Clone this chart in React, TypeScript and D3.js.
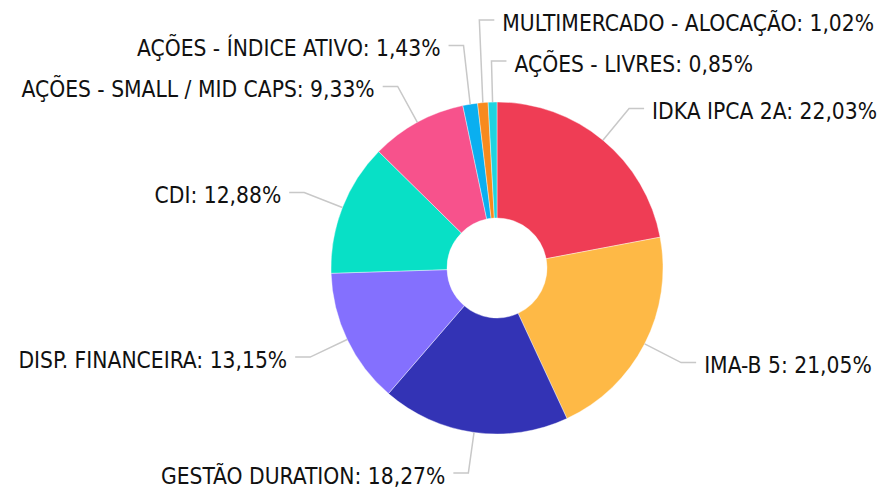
import React from "react";
import * as d3 from "d3";

const categories = [
  "IDKA IPCA 2A",
  "IMA-B 5",
  "GESTÃO DURATION",
  "DISP. FINANCEIRA",
  "CDI",
  "AÇÕES - SMALL / MID CAPS",
  "AÇÕES - ÍNDICE ATIVO",
  "MULTIMERCADO - ALOCAÇÃO",
  "AÇÕES - LIVRES",
];
const values = [22.03, 21.05, 18.27, 13.15, 12.88, 9.33, 1.43, 1.02, 0.85];
const labels = ["22,03%", "21,05%", "18,27%", "13,15%", "12,88%", "9,33%", "1,43%", "1,02%", "0,85%"];
const colors = ["#ef3d55", "#feb946", "#3333b5", "#8470fe", "#08e0c6", "#f7528c", "#0aaff0", "#f88a1e", "#1fd3e0"];

const W = 883;
const H = 488;
const cx = 497;
const cy = 268;
const R = 166;
const r0 = 50;
const len1 = 41;
const len2 = 15;
const gapText = 8;
const minGap = 41;

export default function App() {
  const data = categories.map((c, i) => ({ name: c, value: values[i], label: labels[i], color: colors[i] }));
  const pie = d3.pie<any>().sort(null).value((d) => d.value);
  const arcs = pie(data);
  const arcGen = d3.arc<any>().innerRadius(r0).outerRadius(R);

  const items = arcs.map((a, i) => {
    const mid = (a.startAngle + a.endAngle) / 2;
    const px = cx + R * Math.sin(mid);
    const py = cy - R * Math.cos(mid);
    const ex = cx + (R + len1) * Math.sin(mid);
    const ey = cy - (R + len1) * Math.cos(mid);
    const right = ex - cx > -25;
    const order = right ? (mid > Math.PI ? mid - 2 * Math.PI : mid) : -mid;
    return { i, mid, px, py, ex, ey, right, order, y: ey };
  });

  [true, false].forEach((side) => {
    const group = items.filter((d) => d.right === side).sort((a, b) => a.order - b.order);
    for (let k = group.length - 2; k >= 0; k--) {
      group[k].y = Math.min(group[k].y, group[k + 1].y - minGap);
    }
  });

  return (
    <svg width={W} height={H} style={{ position: "absolute", left: 0, top: 0 }}>
      <rect width={W} height={H} fill="#ffffff" />
      <g transform={`translate(${cx},${cy})`}>
        {arcs.map((a, i) => (
          <path key={i} d={arcGen(a) || ""} fill={data[i].color} stroke="#ffffff" strokeWidth={0.4} />
        ))}
      </g>
      {items.map((it) => {
        const dir = it.right ? 1 : -1;
        const hx = it.ex + dir * len2;
        const tx = hx + dir * gapText;
        return (
          <g key={it.i}>
            <polyline
              points={`${it.px},${it.py} ${it.ex},${it.y} ${hx},${it.y}`}
              fill="none"
              stroke="#c8c8c8"
              strokeWidth={1.5}
            />
            <text
              x={tx}
              y={it.y + 10.5}
              textAnchor={it.right ? "start" : "end"}
              fontFamily="'DejaVu Sans Condensed', 'DejaVu Sans', sans-serif"
              fontStretch="condensed"
              fontSize={22.6}
              fill="#111111"
            >
              {`${data[it.i].name}: ${data[it.i].label}`}
            </text>
          </g>
        );
      })}
    </svg>
  );
}
